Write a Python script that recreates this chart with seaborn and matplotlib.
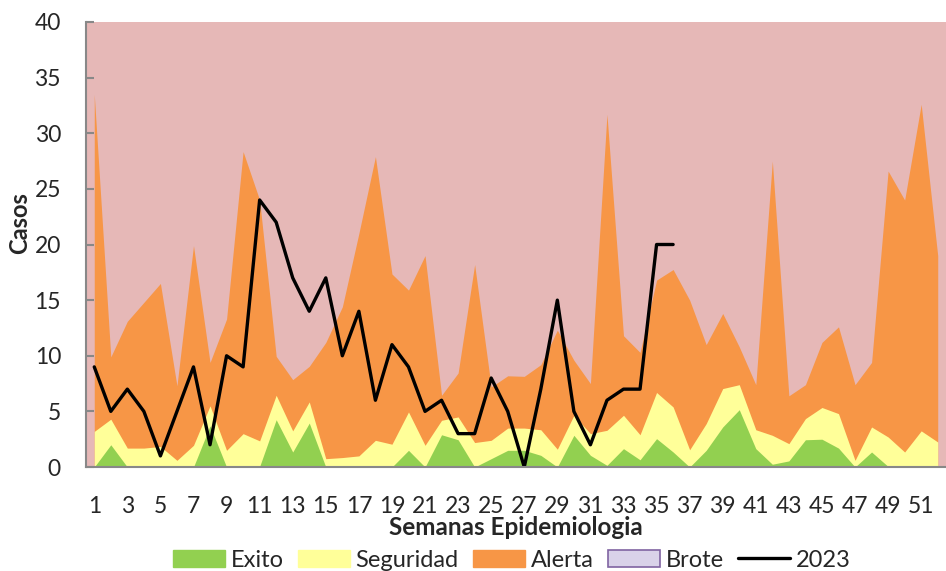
import numpy as np
import pandas as pd
import seaborn as sns
import matplotlib.pyplot as plt
from matplotlib.patches import Patch
from matplotlib.lines import Line2D

sns.set_style('white')
plt.rcParams['font.family'] = ['Lato', 'DejaVu Sans']

# Semanas epidemiologicas
semanas = list(range(1, 53))

# Limites superiores (acumulados) del canal endemico
exito = [0, 2, 0, 0, 0, 0, 0, 3.7, 0, 0.1, 0.05, 4.25, 1.35, 3.95, 0, 0, 0, 0, 0, 1.5,
         0, 2.9, 2.45, 0, 0.75, 1.5, 1.5, 1.05, 0, 2.85, 1.05, 0.15, 1.65, 0.65, 2.55, 1.35,
         0, 1.5, 3.6, 5.15, 1.65, 0.25, 0.55, 2.45, 2.5, 1.7, 0, 1.35, 0.05, 0, 0.1, 0.1]
seguridad = [3.2, 4.3, 1.7, 1.7, 1.85, 0.6, 1.95, 5.5, 1.5, 3.0, 2.35, 6.45, 3.25, 5.85,
             0.75, 0.85, 1.0, 2.4, 2.05, 4.95, 1.95, 4.2, 4.5, 2.2, 2.4, 3.5, 3.5, 3.35,
             1.6, 4.65, 3.0, 3.3, 4.65, 2.9, 6.7, 5.4, 1.55, 3.9, 7.05, 7.4, 3.35, 2.85,
             2.1, 4.35, 5.35, 4.8, 0.6, 3.6, 2.7, 1.35, 3.25, 2.25]
alerta = [33.5, 9.9, 13.1, 14.8, 16.5, 7.3, 19.9, 9.4, 13.3, 28.35, 24.0, 9.95, 7.85, 9.05,
          11.2, 14.4, 21.0, 27.9, 17.35, 15.9, 19.0, 6.45, 8.45, 18.2, 7.2, 8.2, 8.15, 9.2,
          12.3, 9.6, 7.5, 31.7, 11.8, 10.3, 16.8, 17.75, 15.0, 11.0, 13.8, 10.8, 7.4, 27.5,
          6.4, 7.4, 11.2, 12.6, 7.4, 9.4, 26.6, 24.0, 32.6, 19.0]
brote = [40] * 52

# Casos 2023 (semanas 1-36)
semanas_2023 = list(range(1, 37))
casos_2023 = [9, 5, 7, 5, 1, 5, 9, 2, 10, 9, 24, 22, 17, 14, 17, 10, 14, 6, 11, 9, 5, 6,
              3, 3, 8, 5, 0, 7, 15, 5, 2, 6, 7, 7, 20, 20]

c_exito = '#92D050'
c_seg = '#FFFF99'
c_alerta = '#F79646'
c_brote = '#E6B8B7'

fig = plt.figure(figsize=(9.46, 5.71), dpi=100)
ax = fig.add_axes([0.0909, 0.1821, 0.9091, 0.7794])
ax.set_facecolor(c_brote)

ax.fill_between(semanas, 0, brote, color=c_brote, lw=0)
ax.fill_between(semanas, 0, alerta, color=c_alerta, lw=0)
ax.fill_between(semanas, 0, seguridad, color=c_seg, lw=0)
ax.fill_between(semanas, 0, exito, color=c_exito, lw=0)

df = pd.DataFrame({'semana': semanas_2023, 'casos': casos_2023})
sns.lineplot(data=df, x='semana', y='casos', color='black', lw=2.4, ax=ax)

ax.set_xlim(0.5, 52.1)
ax.set_ylim(0, 40)
ax.set_yticks(range(0, 41, 5))
ax.set_xticks(range(1, 53, 2))
ax.set_xticks(np.arange(0.5, 53, 1), minor=True)
ax.tick_params(axis='x', which='major', length=0, labelsize=16.5, pad=21)
ax.tick_params(axis='x', which='minor', direction='inout', length=12, width=1.5,
               color='#888888')
ax.tick_params(axis='y', direction='in', length=6, width=1.5, color='#888888',
               labelsize=16.5, pad=18, left=True)

for s in ['top', 'right']:
    ax.spines[s].set_visible(False)
for s in ['left', 'bottom']:
    ax.spines[s].set_color('#888888')
    ax.spines[s].set_linewidth(1.5)

ax.set_xlabel('Semanas Epidemiologia', fontsize=17.5, fontweight='bold', labelpad=-1)
ax.set_ylabel('')
fig.text(0.021, 0.61, 'Casos', rotation=90, fontsize=17, fontweight='bold',
         ha='center', va='center')

handles = [Patch(facecolor=c_exito, edgecolor=c_exito),
           Patch(facecolor=c_seg, edgecolor=c_seg),
           Patch(facecolor=c_alerta, edgecolor=c_alerta),
           Patch(facecolor='#D9D2E9', edgecolor='#8064A2', lw=1.2),
           Line2D([0], [0], color='black', lw=2.4)]
fig.legend(handles, ['Exito', 'Seguridad', 'Alerta', 'Brote', '2023'], ncol=5,
           loc='center', bbox_to_anchor=(0.541, 0.019), frameon=False, fontsize=17,
           handlelength=2.2, handleheight=0.75, columnspacing=0.6, handletextpad=0.25)

fig.savefig('out.png', dpi=100)
